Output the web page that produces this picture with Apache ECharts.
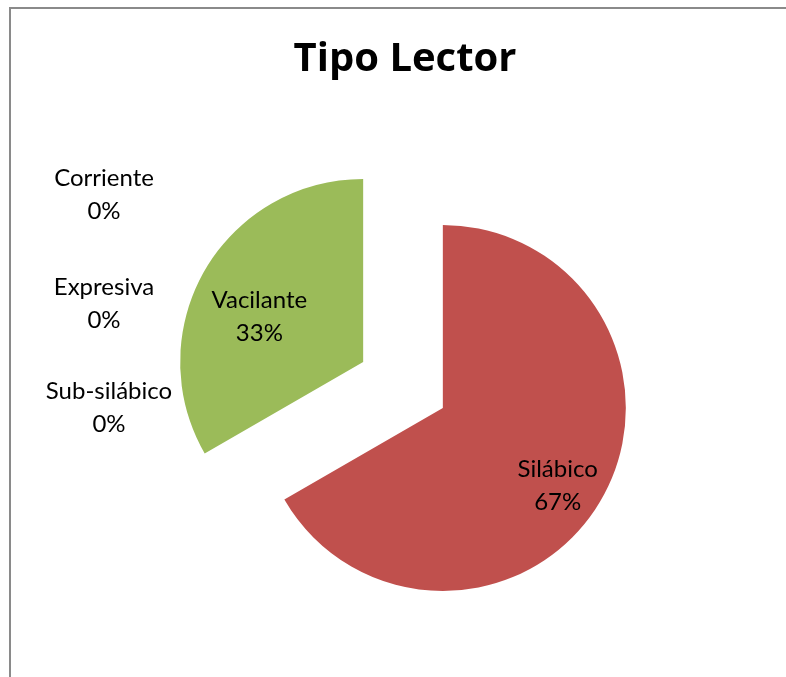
<!DOCTYPE html>
<html><head><meta charset="utf-8">
<script src="https://cdn.jsdelivr.net/npm/echarts@6/dist/echarts.min.js"></script>
<style>html,body{margin:0;padding:0;background:#fff}#c{width:786px;height:677px}</style>
</head><body><div id="c"></div>
<script>
const title = 'Tipo Lector';
const categories = ['Silábico', 'Vacilante', 'Sub-silábico', 'Expresiva', 'Corriente'];
const values = [2, 1, 0, 0, 0];
const colors = ['#C0504D', '#9BBB59', '#4F81BD', '#8064A2', '#4BACC6'];
const exploded = [true, true, false, false, false];
// label anchor points (centre of each zero-slice label block)
const labelPos = [null, null, [109, 408], [104, 304], [104, 195]];
// horizontal padding / vertical spacer that nudge the labels inside the exploded slices
const labelPad = [[0, 0, 0, 66], [0, 44, 0, 0], null, null, null];
const labelSpacer = [62, 4, 0, 0, 0];

const font = 'Lato, Calibri, "Noto Sans", sans-serif';
const chart = echarts.init(document.getElementById('c'));
chart.setOption({
  animation: false,
  title: {
    text: title, left: 400, top: 35, textAlign: 'center',
    textStyle: { fontFamily: '"Open Sans", Calibri, sans-serif', fontSize: 40, fontWeight: 'bold', color: '#000' }
  },
  graphic: [{
    type: 'rect', silent: true,
    shape: { x: 10, y: 8, width: 800, height: 700 },
    style: { fill: 'none', stroke: '#8a8a8a', lineWidth: 2 }
  }],
  series: [{
    type: 'pie',
    center: [403, 385],
    radius: 183,
    startAngle: 90,
    clockwise: true,
    selectedMode: 'multiple',
    selectedOffset: 46,
    avoidLabelOverlap: false,
    stillShowZeroSum: true,
    emphasis: { disabled: true },
    itemStyle: { borderWidth: 0 },
    labelLine: { show: false },
    label: {
      show: true,
      position: 'inside',
      fontFamily: font, fontSize: 24, color: '#000', lineHeight: 33,
      align: 'center',
      formatter: p => {
        const s = labelSpacer[p.dataIndex];
        const body = '{t|' + p.name + '}\n{t|' + Math.round(p.percent) + '%}';
        return s ? '{s' + p.dataIndex + '|}\n' + body : body;
      },
      rich: {
        t: { fontFamily: font, fontSize: 24, color: '#000', lineHeight: 33 },
        s0: { fontSize: 1, lineHeight: labelSpacer[0] },
        s1: { fontSize: 1, lineHeight: labelSpacer[1] }
      }
    },
    labelLayout: p => labelPos[p.dataIndex] ? ({
      x: labelPos[p.dataIndex][0], y: labelPos[p.dataIndex][1],
      align: 'center', verticalAlign: 'middle'
    }) : {},
    data: categories.map((c, i) => {
      const d = { name: c, value: values[i], selected: exploded[i], itemStyle: { color: colors[i] } };
      if (labelPad[i]) d.label = { padding: labelPad[i] };
      return d;
    })
  }]
});
</script></body></html>
